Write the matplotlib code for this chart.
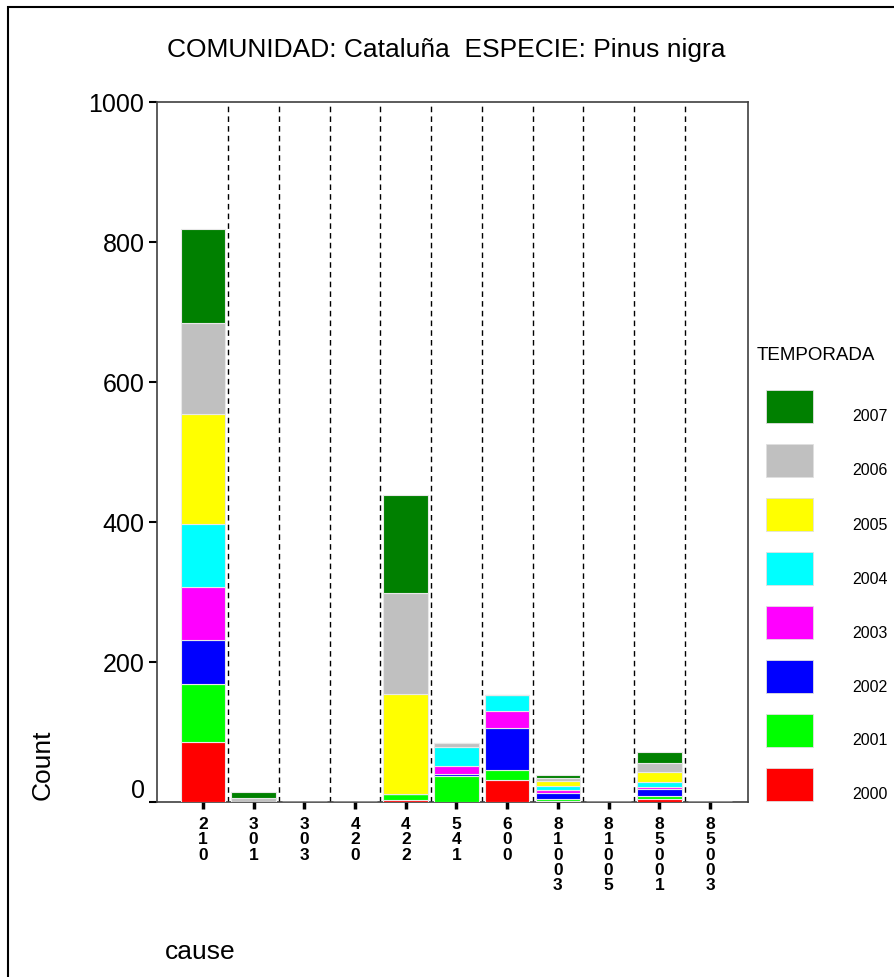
import matplotlib
matplotlib.use("Agg")
import matplotlib.pyplot as plt
from matplotlib.patches import Rectangle
from matplotlib import font_manager
import numpy as np

plt.rcParams['font.family'] = ['Liberation Sans', 'DejaVu Sans']

causes = ['210', '301', '303', '420', '422', '541', '600', '81003', '81005', '85001', '85003']
years = ['2000', '2001', '2002', '2003', '2004', '2005', '2006', '2007']
colors = ['#ff0000', '#00ff00', '#0000ff', '#ff00ff', '#00ffff', '#ffff00', '#c0c0c0', '#008000']

# counts per year, aligned with causes
c2000 = [86, 0, 0, 0, 3, 0, 31, 1, 0, 4, 0]
c2001 = [82, 0, 0, 0, 9, 37, 15, 3, 0, 4, 0]
c2002 = [64, 0, 0, 0, 0, 3, 60, 9, 0, 10, 0]
c2003 = [75, 0, 0, 0, 0, 11, 24, 4, 0, 3, 0]
c2004 = [90, 0, 0, 0, 0, 28, 23, 6, 0, 8, 0]
c2005 = [157, 0, 0, 0, 143, 0, 0, 7, 0, 14, 0]
c2006 = [131, 6, 0, 0, 143, 6, 0, 4, 0, 13, 0]
c2007 = [134, 9, 0, 0, 140, 0, 0, 4, 0, 15, 0]
series = [c2000, c2001, c2002, c2003, c2004, c2005, c2006, c2007]

avail = {f.name for f in font_manager.fontManager.ttflist}
narrow = 'Liberation Sans Narrow' if 'Liberation Sans Narrow' in avail else 'Liberation Sans'

W, H = 894, 978
fig = plt.figure(figsize=(W / 100, H / 100), dpi=100)
ax = fig.add_axes([157 / W, 1 - 803 / H, (748 - 157) / W, (803 - 103) / H])

x = np.arange(len(causes))
bottom = np.zeros(len(causes))
for vals, col in zip(series, colors):
    v = np.array(vals, dtype=float)
    ax.bar(x, v, width=0.88, bottom=bottom, color=col, edgecolor='#e8e8e8', linewidth=0.8, zorder=3)
    bottom += v

for i in range(len(causes) - 1):
    ax.axvline(i + 0.5, color='black', linestyle=(0, (4, 3)), linewidth=1.0, zorder=2)

ax.set_xlim(-0.907, 10.75)
ax.set_ylim(0, 1000)
ax.set_yticks([0, 200, 400, 600, 800, 1000])
ax.set_yticklabels(['0', '200', '400', '600', '800', '1000'], fontsize=18)
ylabels = ax.get_yticklabels()
ylabels[0].set_va('bottom')
ax.set_xticks(x)
ax.set_xticklabels(['\n'.join(c) for c in causes], fontsize=12.5, fontweight='bold',
                   family=[narrow, 'DejaVu Sans'], linespacing=1.03, va='top')
ax.tick_params(axis='x', direction='out', length=5, width=2.5, pad=5)
ax.tick_params(axis='y', direction='out', length=6, width=1.5, pad=3)
for s in ax.spines.values():
    s.set_linewidth(1.2)
    s.set_color('#404040')

fig.text(446 / W, 1 - 50 / H, 'COMUNIDAD: Cataluña  ESPECIE: Pinus nigra', ha='center', va='center', fontsize=19)
fig.text(43 / W, 1 - 765 / H, 'Count', rotation=90, ha='center', va='center', fontsize=19)
fig.text(165 / W, 1 - 952 / H, 'cause', ha='left', va='center', fontsize=19)

# legend
fig.text(757 / W, 1 - 355 / H, 'TEMPORADA', ha='left', va='center', fontsize=13.5)
for k, (yr, col) in enumerate(zip(years[::-1], colors[::-1])):
    top = 391 + k * 54
    fig.add_artist(Rectangle((766 / W, 1 - (top + 33) / H), 47 / W, 33 / H,
                             transform=fig.transFigure, facecolor=col, edgecolor='#e0e0e0', linewidth=0.6))
    fig.text(852 / W, 1 - (top + 26) / H, yr, ha='left', va='center', fontsize=11.5)

# outer frame (left and top edges visible)
fig.add_artist(Rectangle((8 / W, -0.01), 1.0, 1 - 8 / H + 0.01,
                         transform=fig.transFigure, fill=False, edgecolor='black', linewidth=1.5))

fig.savefig('out.png', dpi=100)
